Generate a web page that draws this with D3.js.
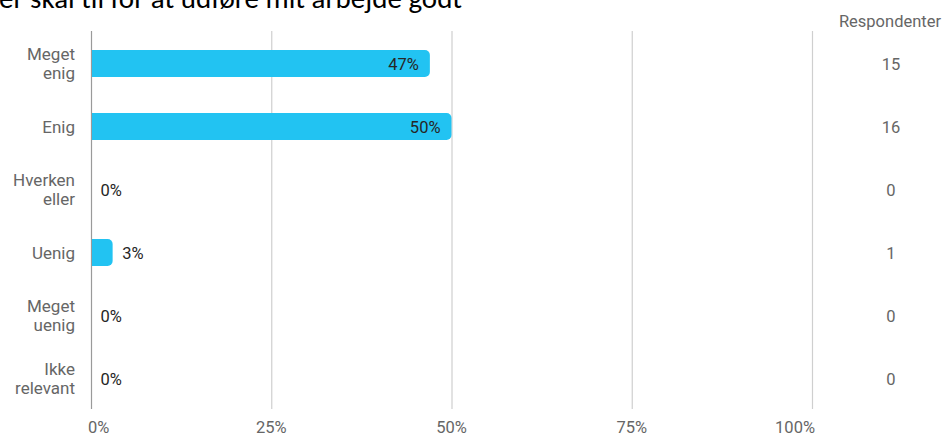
<!DOCTYPE html>
<html><head><meta charset="utf-8">
<script src="https://cdn.jsdelivr.net/npm/d3@7"></script>
<style>body{margin:0;background:#fff}svg{display:block}</style>
</head><body>
<svg id="c" width="947" height="436"></svg>
<script>
const categories = [["Meget","enig"],["Enig"],["Hverken","eller"],["Uenig"],["Meget","uenig"],["Ikke","relevant"]];
const percents = [47, 50, 0, 3, 0, 0];
const respondents = [15, 16, 0, 1, 0, 0];
const tickValues = [0, 25, 50, 75, 100];
const titleText = "er skal til for at udføre mit arbejde godt";
const countHeader = "Respondenter";

const svg = d3.select("#c");
const font = "Roboto, sans-serif";
const fs = 17;
const x = d3.scaleLinear().domain([0, 100]).range([91, 812]);
const y = d3.scaleBand().domain(d3.range(categories.length)).range([32, 410]).paddingInner(0.57).paddingOuter(0.285);
const rows = percents.map((p, i) => ({p, i, lines: categories[i], n: respondents[i]}));

svg.append("text").attr("x", -1).attr("y", 8).attr("font-family", "Carlito, Calibri, 'Liberation Sans', sans-serif")
  .attr("font-size", 29).attr("fill", "#000").text(titleText);

// gridlines
svg.append("g").selectAll("line").data(tickValues).join("line")
  .attr("x1", d => x(d) + 0.5).attr("x2", d => x(d) + 0.5)
  .attr("y1", 31).attr("y2", 409)
  .attr("stroke", d => d === 0 ? "#9a9a9a" : "#cfcfcf").attr("stroke-width", 1.2);

// tick labels
svg.append("g").selectAll("text").data(tickValues).join("text")
  .attr("x", (d, i) => i === 0 ? x(d) - 3 : i === tickValues.length - 1 ? x(d) + 3 : x(d))
  .attr("y", 433)
  .attr("text-anchor", (d, i) => i === 0 ? "start" : i === tickValues.length - 1 ? "end" : "middle")
  .attr("font-family", font).attr("font-size", 16.5).attr("fill", "#666")
  .text(d => d + "%");

// bars with right rounded corners
const r = 5;
function barPath(x0, y0, w, h) {
  const rr = Math.min(r, w / 2, h / 2);
  return `M${x0},${y0}H${x0 + w - rr}A${rr},${rr} 0 0 1 ${x0 + w},${y0 + rr}V${y0 + h - rr}A${rr},${rr} 0 0 1 ${x0 + w - rr},${y0 + h}H${x0}Z`;
}
svg.append("g").selectAll("path").data(rows.filter(d => d.p > 0)).join("path")
  .attr("d", d => barPath(x(0) + 1, y(d.i), x(d.p) - x(0) - 1, y.bandwidth()))
  .attr("fill", "#22c3f2");

// value labels
svg.append("g").selectAll("text").data(rows).join("text")
  .attr("x", d => d.p >= 10 ? x(d.p) - 11 : x(d.p) + 9.5)
  .attr("y", d => y(d.i) + y.bandwidth() / 2 + 6)
  .attr("text-anchor", d => d.p >= 10 ? "end" : "start")
  .attr("font-family", font).attr("font-size", 16.5).attr("fill", "#262626")
  .text(d => d.p + "%");

// category labels
const cl = svg.append("g").selectAll("text").data(rows).join("text")
  .attr("text-anchor", "end").attr("font-family", font).attr("font-size", fs).attr("fill", "#666");
cl.each(function(d) {
  const cy = y(d.i) + y.bandwidth() / 2;
  const lh = 19;
  const start = cy - (d.lines.length - 1) * lh / 2 + 6;
  d3.select(this).selectAll("tspan").data(d.lines).join("tspan")
    .attr("x", 75).attr("y", (t, j) => start + j * lh).text(t => t);
});

// respondents column
svg.append("text").attr("x", 890).attr("y", 27).attr("text-anchor", "middle")
  .attr("font-family", font).attr("font-size", 16.5).attr("fill", "#666").text(countHeader);
svg.append("g").selectAll("text").data(rows).join("text")
  .attr("x", 891).attr("y", d => y(d.i) + y.bandwidth() / 2 + 6).attr("text-anchor", "middle")
  .attr("font-family", font).attr("font-size", 16.5).attr("fill", "#666").text(d => d.n);
</script>
</body></html>
